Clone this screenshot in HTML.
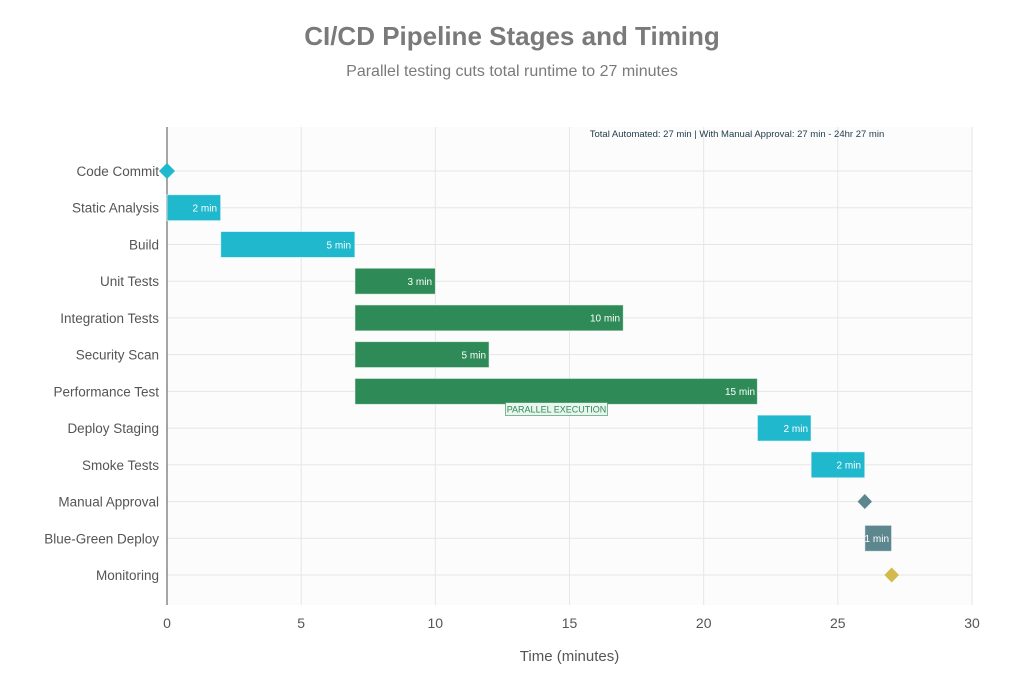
<!DOCTYPE html>
<html><head><meta charset="utf-8"><style>
body{margin:0;background:#fff}
svg text{font-family:"Liberation Sans",sans-serif}
</style></head><body>
<svg width="1024" height="683" viewBox="0 0 1024 683" xmlns="http://www.w3.org/2000/svg">
<rect width="1024" height="683" fill="#fff"/>
<text x="512" y="45" text-anchor="middle" font-size="26" font-weight="bold" fill="#7a7a7a">CI/CD Pipeline Stages and Timing</text>
<text x="512" y="76" text-anchor="middle" font-size="16" fill="#7a7a7a">Parallel testing cuts total runtime to 27 minutes</text>
<rect x="167" y="127" width="805" height="478" fill="#fcfcfc"/>
<g stroke="#e6e6e6" stroke-width="1">
<line x1="301.2" y1="127" x2="301.2" y2="605"/><line x1="435.3" y1="127" x2="435.3" y2="605"/><line x1="569.5" y1="127" x2="569.5" y2="605"/><line x1="703.7" y1="127" x2="703.7" y2="605"/><line x1="837.8" y1="127" x2="837.8" y2="605"/><line x1="972" y1="127" x2="972" y2="605"/>
<line x1="167" y1="171" x2="972" y2="171"/><line x1="167" y1="207.7" x2="972" y2="207.7"/><line x1="167" y1="244.5" x2="972" y2="244.5"/><line x1="167" y1="281.2" x2="972" y2="281.2"/><line x1="167" y1="317.9" x2="972" y2="317.9"/><line x1="167" y1="354.6" x2="972" y2="354.6"/><line x1="167" y1="391.4" x2="972" y2="391.4"/><line x1="167" y1="428.1" x2="972" y2="428.1"/><line x1="167" y1="464.8" x2="972" y2="464.8"/><line x1="167" y1="501.6" x2="972" y2="501.6"/><line x1="167" y1="538.3" x2="972" y2="538.3"/><line x1="167" y1="575" x2="972" y2="575"/>
</g>
<line x1="167" y1="127" x2="167" y2="605" stroke="#888" stroke-width="1.5"/>
<g font-size="13.5" fill="#555" text-anchor="end">
<text x="159" y="176">Code Commit</text><text x="159" y="212.7">Static Analysis</text><text x="159" y="249.5">Build</text><text x="159" y="286.2">Unit Tests</text><text x="159" y="322.9">Integration Tests</text><text x="159" y="359.6">Security Scan</text><text x="159" y="396.4">Performance Test</text><text x="159" y="433.1">Deploy Staging</text><text x="159" y="469.8">Smoke Tests</text><text x="159" y="506.6">Manual Approval</text><text x="159" y="543.3">Blue-Green Deploy</text><text x="159" y="580">Monitoring</text>
</g>
<g font-size="14" fill="#555" text-anchor="middle">
<text x="167" y="628">0</text><text x="301.2" y="628">5</text><text x="435.3" y="628">10</text><text x="569.5" y="628">15</text><text x="703.7" y="628">20</text><text x="837.8" y="628">25</text><text x="972" y="628">30</text>
</g>
<text x="569.5" y="661" text-anchor="middle" font-size="15" fill="#555">Time (minutes)</text>
<g stroke="#fff" stroke-opacity="0.6" stroke-width="1">
<rect x="167" y="194.7" width="53.7" height="26" fill="#1fb8cd"/>
<rect x="220.7" y="231.5" width="134.2" height="26" fill="#1fb8cd"/>
<rect x="354.9" y="268.2" width="80.5" height="26" fill="#2e8b57"/>
<rect x="354.9" y="304.9" width="268.4" height="26" fill="#2e8b57"/>
<rect x="354.9" y="341.6" width="134.2" height="26" fill="#2e8b57"/>
<rect x="354.9" y="378.4" width="402.5" height="26" fill="#2e8b57"/>
<rect x="757.4" y="415.1" width="53.7" height="26" fill="#1fb8cd"/>
<rect x="811.1" y="451.8" width="53.7" height="26" fill="#1fb8cd"/>
<rect x="864.8" y="525.3" width="26.8" height="26" fill="#5d878f"/>
</g>
<polygon points="167,163 175,171 167,179 159,171" fill="#1fb8cd"/>
<polygon points="864.8,494 872,501.6 864.8,509 857.6,501.6" fill="#5d878f"/>
<polygon points="891.7,567.5 899,575 891.7,582.5 884.4,575" fill="#d2ba4c"/>
<g font-size="10" fill="#fff" text-anchor="end">
<text x="217" y="211.5">2 min</text><text x="351" y="248.3">5 min</text><text x="432" y="285">3 min</text><text x="620" y="321.7">10 min</text><text x="486" y="358.4">5 min</text><text x="755" y="395.2">15 min</text><text x="808" y="431.9">2 min</text><text x="861" y="468.6">2 min</text><text x="889" y="542.1">1 min</text>
</g>
<rect x="505.5" y="402.5" width="102" height="13" fill="#eaf5ee" stroke="#2e8b57" stroke-opacity="0.6"/>
<text x="556.5" y="412.5" text-anchor="middle" font-size="9" fill="#2e8b57">PARALLEL EXECUTION</text>
<text x="737" y="137" text-anchor="middle" font-size="9.5" fill="#1f3a4a">Total Automated: 27 min | With Manual Approval: 27 min - 24hr 27 min</text>
</svg>
</body></html>
